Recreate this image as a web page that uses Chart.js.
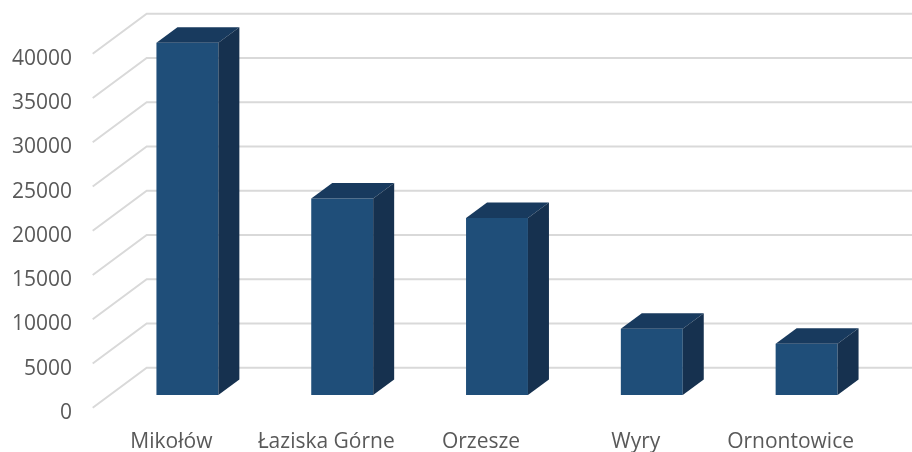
<!DOCTYPE html>
<html>
<head>
<meta charset="utf-8">
<script src="https://cdn.jsdelivr.net/npm/chart.js@4/dist/chart.umd.min.js"></script>
<style>
  body { margin: 0; background: #fff; }
</style>
</head>
<body>
<canvas id="myChart" width="912" height="452"></canvas>
<script>
const ctx = document.getElementById('myChart').getContext('2d');

const towns = ['Mikołów', 'Łaziska Górne', 'Orzesze', 'Wyry', 'Ornontowice'];
const values = [39800, 22200, 20000, 7500, 5800];
const yTicks = [0, 5000, 10000, 15000, 20000, 25000, 30000, 35000, 40000];

// 3d offsets, relative to the plane of the bars' front faces
const FRONT = {x: -17.3, y: 12.8};
const BACK = {x: 36.7, y: -27.2};
const BAR_DEPTH = {x: 21, y: -15.5};

const depth3d = {
  id: 'depth3d',
  beforeDatasetsDraw(chart) {
    const {ctx, chartArea, scales: {y}} = chart;
    ctx.save();
    ctx.strokeStyle = '#d9d9d9';
    ctx.lineWidth = 2;
    yTicks.forEach(v => {
      const py = y.getPixelForValue(v);
      ctx.beginPath();
      ctx.moveTo(chartArea.left + FRONT.x, py + FRONT.y);
      ctx.lineTo(chartArea.left + BACK.x, py + BACK.y);
      ctx.lineTo(chart.width, py + BACK.y);
      ctx.stroke();
    });
    ctx.restore();
  },
  afterDatasetsDraw(chart) {
    const {ctx} = chart;
    ctx.save();
    chart.getDatasetMeta(0).data.forEach(bar => {
      const {x, y, base, width} = bar.getProps(['x', 'y', 'base', 'width'], true);
      const l = x - width / 2;
      const r = x + width / 2;
      // top
      ctx.fillStyle = '#183a5e';
      ctx.beginPath();
      ctx.moveTo(l, y);
      ctx.lineTo(l + BAR_DEPTH.x, y + BAR_DEPTH.y);
      ctx.lineTo(r + BAR_DEPTH.x, y + BAR_DEPTH.y);
      ctx.lineTo(r, y);
      ctx.closePath();
      ctx.fill();
      // side
      ctx.fillStyle = '#16314f';
      ctx.beginPath();
      ctx.moveTo(r, y);
      ctx.lineTo(r + BAR_DEPTH.x, y + BAR_DEPTH.y);
      ctx.lineTo(r + BAR_DEPTH.x, base + BAR_DEPTH.y);
      ctx.lineTo(r, base);
      ctx.closePath();
      ctx.fill();
    });
    ctx.restore();
  }
};

const labelFont = {family: 'Open Sans', size: 21};

const myChart = new Chart(ctx, {
  type: 'bar',
  data: {
    labels: towns,
    datasets: [{
      data: values,
      backgroundColor: '#1f4e79',
      borderWidth: 0,
      barPercentage: 0.4,
      categoryPercentage: 1,
      clip: false,
    }]
  },
  plugins: [depth3d],
  options: {
    responsive: false,
    animation: false,
    layout: {
      padding: {top: 41, right: 28, left: 0, bottom: 0}
    },
    plugins: {
      legend: {display: false},
      tooltip: {enabled: false},
    },
    scales: {
      x: {
        afterFit(scale) {
          scale.height = 57;
          scale.paddingLeft = 0;
          scale.paddingRight = 0;
        },
        grid: {display: false},
        border: {display: false},
        ticks: {
          labelOffset: -16,
          padding: 26,
          maxRotation: 0,
          autoSkip: false,
          color: '#595959',
          font: labelFont,
        }
      },
      y: {
        min: 0,
        max: 40000,
        afterFit(scale) {
          scale.width = 110;
          scale.paddingTop = 0;
          scale.paddingBottom = 0;
        },
        afterBuildTicks(scale) { scale.ticks = yTicks.map(v => ({value: v})); },
        grid: {display: false, drawTicks: false},
        border: {display: false},
        ticks: {
          padding: 38,
          labelOffset: 18,
          color: '#595959',
          font: labelFont,
          callback: (v) => String(v),
        }
      }
    }
  }
});
</script>
</body>
</html>
